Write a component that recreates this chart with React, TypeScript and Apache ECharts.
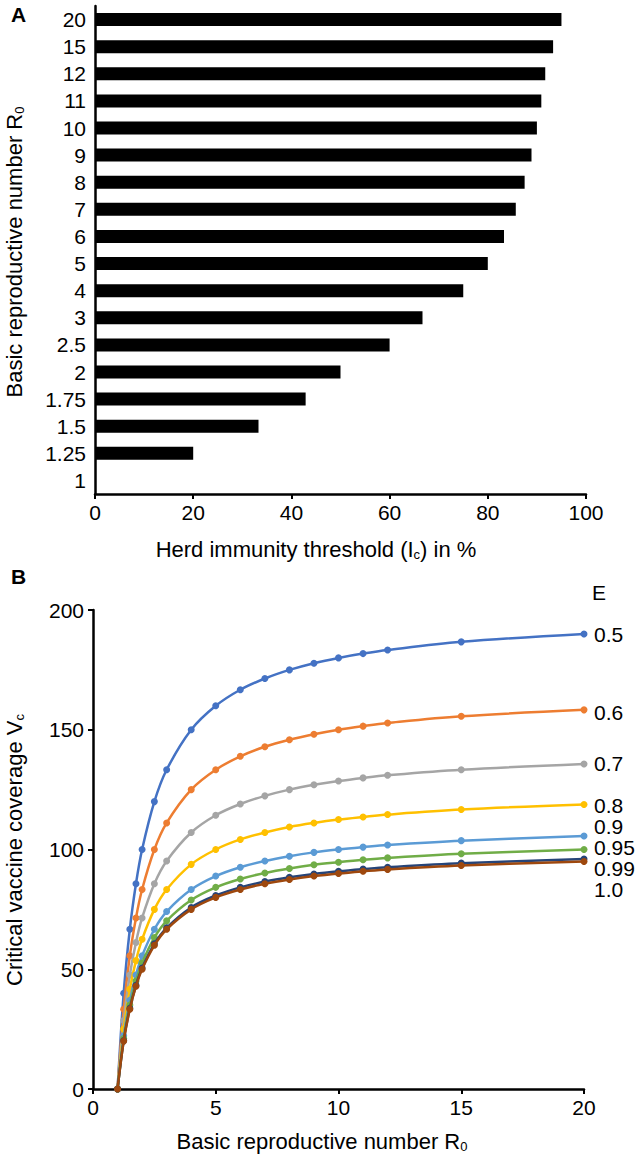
import React, { useEffect, useRef } from "react";
import * as echarts from "echarts";

// Panel A data
const r0Categories = ["1", "1.25", "1.5", "1.75", "2", "2.5", "3", "4", "5", "6", "7", "8", "9", "10", "11", "12", "15", "20"];
const herdThreshold = [0, 20, 33.3, 42.9, 50, 60, 66.7, 75, 80, 83.3, 85.7, 87.5, 88.9, 90, 90.9, 91.7, 93.3, 95];

// Panel B data
const r0Values = [1, 1.25, 1.5, 1.75, 2, 2.5, 3, 4, 5, 6, 7, 8, 9, 10, 11, 12, 15, 20];
const effLabels = ["0.5", "0.6", "0.7", "0.8", "0.9", "0.95", "0.99", "1.0"];
const effColors = ["#4472C4", "#ED7D31", "#A5A5A5", "#FFC000", "#5B9BD5", "#70AD47", "#264478", "#9E480E"];
const vcE050 = [0, 40, 66.7, 85.7, 100, 120, 133.3, 150, 160, 166.7, 171.4, 175, 177.8, 180, 181.8, 183.3, 186.7, 190];
const vcE060 = [0, 33.3, 55.6, 71.4, 83.3, 100, 111.1, 125, 133.3, 138.9, 142.9, 145.8, 148.1, 150, 151.5, 152.8, 155.6, 158.3];
const vcE070 = [0, 28.6, 47.6, 61.2, 71.4, 85.7, 95.2, 107.1, 114.3, 119, 122.4, 125, 127, 128.6, 129.9, 131, 133.3, 135.7];
const vcE080 = [0, 25, 41.7, 53.6, 62.5, 75, 83.3, 93.8, 100, 104.2, 107.1, 109.4, 111.1, 112.5, 113.6, 114.6, 116.7, 118.8];
const vcE090 = [0, 22.2, 37, 47.6, 55.6, 66.7, 74.1, 83.3, 88.9, 92.6, 95.2, 97.2, 98.8, 100, 101, 101.9, 103.7, 105.6];
const vcE095 = [0, 21.1, 35.1, 45.1, 52.6, 63.2, 70.2, 78.9, 84.2, 87.7, 90.2, 92.1, 93.6, 94.7, 95.7, 96.5, 98.2, 100];
const vcE099 = [0, 20.2, 33.7, 43.3, 50.5, 60.6, 67.3, 75.8, 80.8, 84.2, 86.6, 88.4, 89.8, 90.9, 91.8, 92.6, 94.3, 96];
const vcE100 = [0, 20, 33.3, 42.9, 50, 60, 66.7, 75, 80, 83.3, 85.7, 87.5, 88.9, 90, 90.9, 91.7, 93.3, 95];
const vcSeries = [vcE050, vcE060, vcE070, vcE080, vcE090, vcE095, vcE099, vcE100];

const FONT = "'Liberation Sans', Arial, sans-serif";

export default function App() {
  const ref = useRef<HTMLDivElement>(null);
  useEffect(() => {
    document.body.style.margin = "0";
    const chart = echarts.init(ref.current!, null, { renderer: "svg" });
    const axisLine = { show: true, lineStyle: { color: "#000", width: 2.5 } };
    const labelA = { color: "#000", fontSize: 21, fontFamily: FONT };
    const labelB = { color: "#000", fontSize: 21, fontFamily: FONT };
    const rich = {
      sub: { fontSize: 13, fontFamily: FONT, color: "#000", padding: [10, 0, 0, 0] },
    };
    const TS = 22;
    const labelY = [634, 712, 763, 805, 826, 847, 868, 889];
    chart.setOption({
      animation: false,
      textStyle: { fontFamily: FONT },
      grid: [
        { left: 95, top: 6, width: 491, height: 488 },
        { left: 93, top: 610, width: 491, height: 479 },
      ],
      xAxis: [
        {
          gridIndex: 0, type: "value", min: 0, max: 100, interval: 20,
          axisLine, axisTick: { show: true, length: 5, lineStyle: { color: "#000", width: 2 } },
          axisLabel: { ...labelA, margin: 8 }, splitLine: { show: false },
        },
        {
          gridIndex: 1, type: "value", min: 0, max: 20, interval: 5,
          axisLine, axisTick: { show: true, length: 5, lineStyle: { color: "#000", width: 2 } },
          axisLabel: { ...labelB, margin: 8 }, splitLine: { show: false },
        },
      ],
      yAxis: [
        {
          gridIndex: 0, type: "category", data: r0Categories,
          axisLine, axisTick: { show: false },
          axisLabel: { ...labelA, margin: 9, interval: 0, lineHeight: 22 },
        },
        {
          gridIndex: 1, type: "value", min: 0, max: 200, interval: 50,
          axisLine, axisTick: { show: true, length: 5, lineStyle: { color: "#000", width: 2 } },
          axisLabel: { ...labelB, margin: 9 }, splitLine: { show: false },
        },
      ],
      series: [
        {
          type: "bar", xAxisIndex: 0, yAxisIndex: 0, data: herdThreshold,
          barWidth: 13, itemStyle: { color: "#000" },
        },
        ...vcSeries.map((vals, i) => ({
          type: "line", xAxisIndex: 1, yAxisIndex: 1, name: effLabels[i],
          data: vals.map((v, j) => [r0Values[j], v]),
          smooth: 0.35, symbol: "circle", symbolSize: 7,
          lineStyle: { color: effColors[i], width: 2.5 },
          itemStyle: { color: effColors[i] },
          z: 2 + i,
        })),
      ],
      graphic: [
        { type: "text", left: 11, top: 4, style: { text: "A", font: `bold 21px ${FONT}`, fill: "#000" } },
        { type: "text", left: 11, top: 566, style: { text: "B", font: `bold 21px ${FONT}`, fill: "#000" } },
        {
          type: "text", x: 14, y: 252, rotation: Math.PI / 2,
          style: { text: "Basic reproductive number R{sub|0}", fontSize: TS, fontFamily: FONT, fill: "#000", align: "center", verticalAlign: "middle", rich },
        },
        {
          type: "text", x: 316, y: 549,
          style: { text: "Herd immunity threshold (I{sub|c}) in %", fontSize: TS, fontFamily: FONT, fill: "#000", align: "center", verticalAlign: "middle", rich },
        },
        {
          type: "text", x: 14, y: 850, rotation: Math.PI / 2,
          style: { text: "Critical vaccine coverage V{sub|c}", fontSize: TS, fontFamily: FONT, fill: "#000", align: "center", verticalAlign: "middle", rich },
        },
        {
          type: "text", x: 322, y: 1141,
          style: { text: "Basic reproductive number R{sub|0}", fontSize: TS, fontFamily: FONT, fill: "#000", align: "center", verticalAlign: "middle", rich },
        },
        { type: "text", x: 592, y: 592, style: { text: "E", fontSize: 21, fontFamily: FONT, fill: "#000", align: "left", verticalAlign: "middle" } },
        ...effLabels.map((t, i) => ({
          type: "text", x: 594, y: labelY[i],
          style: { text: t, fontSize: 21, lineHeight: 19, fontFamily: FONT, fill: "#000", align: "left", verticalAlign: "middle" },
        })),
      ],
    });
    return () => chart.dispose();
  }, []);
  return <div ref={ref} style={{ position: "absolute", left: 0, top: 0, width: 641, height: 1160 }} />;
}
